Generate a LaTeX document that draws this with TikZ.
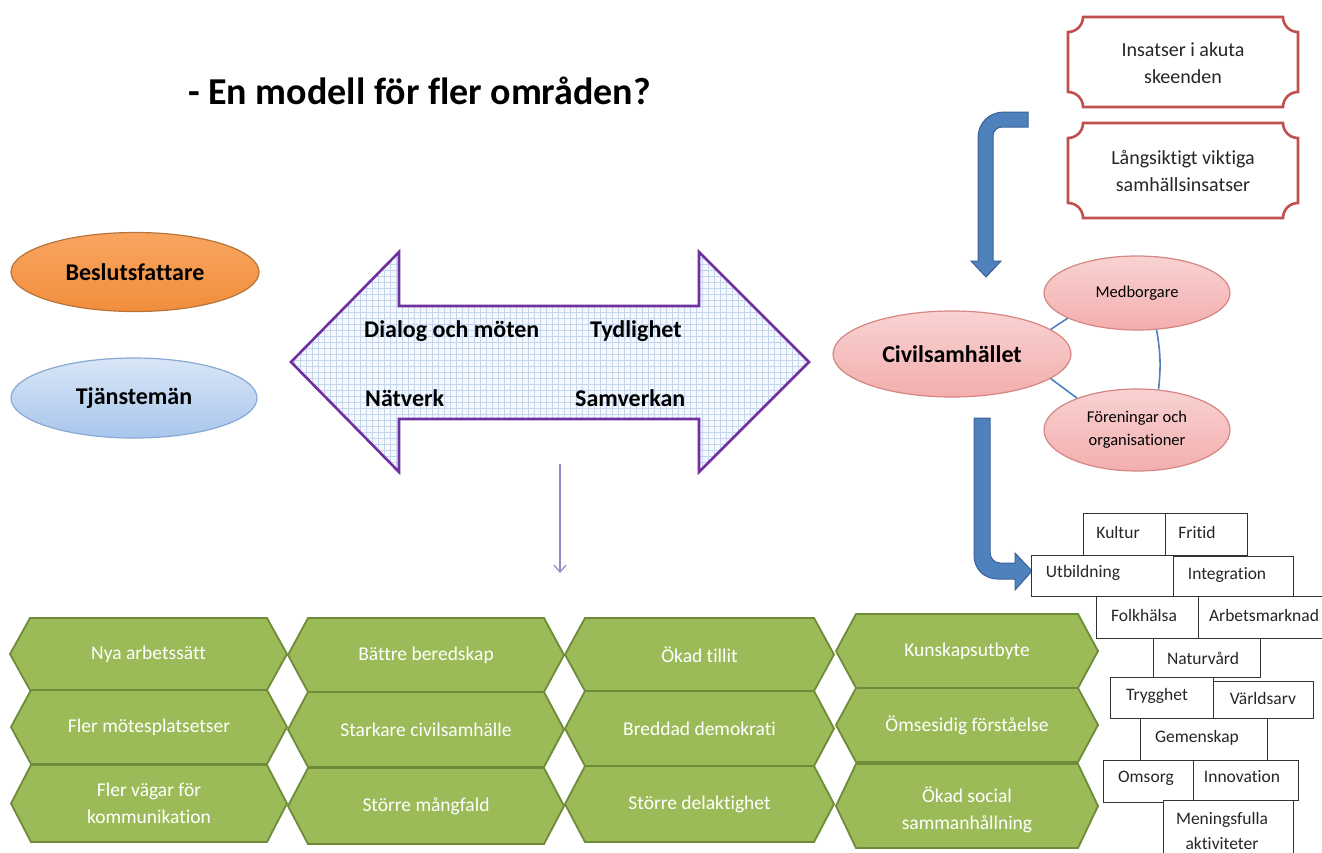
\documentclass[tikz,border=0pt]{standalone}
\usepackage{fontspec}
\setmainfont{Carlito}[Ligatures=NoCommon]
\usetikzlibrary{shapes.geometric,arrows.meta}
\definecolor{grn}{HTML}{9BBB59}
\definecolor{grnd}{HTML}{6F8B3A}
\definecolor{redb}{HTML}{C0504D}
\definecolor{blu}{HTML}{4F81BD}
\definecolor{blud}{HTML}{3A6298}
\definecolor{purp}{HTML}{7030A0}
\definecolor{lpurp}{HTML}{9A86C4}
\definecolor{gridbg}{HTML}{F5F8FD}
\definecolor{gridln}{HTML}{C3D6EE}
\definecolor{pinkt}{HTML}{F9D2D2}
\definecolor{pinkb}{HTML}{F3AEAE}
\definecolor{pinkd}{HTML}{D68583}
\definecolor{orat}{HTML}{F8A560}
\definecolor{orab}{HTML}{F28E3C}
\definecolor{orad}{HTML}{B8733A}
\definecolor{blt}{HTML}{D9E6F7}
\definecolor{blb}{HTML}{A8C6EC}
\definecolor{bld}{HTML}{88A9D4}
\newcommand\fsz[1]{\fontsize{#1}{#1}\selectfont}
\newcommand\plaquepath[4]{({#1+15},#2) -- ({#3-15},#2) .. controls ({#3-15},{#2+8.3}) and ({#3-8.3},{#2+15}) .. (#3,{#2+15})
 -- (#3,{#4-15}) .. controls ({#3-8.3},{#4-15}) and ({#3-15},{#4-8.3}) .. ({#3-15},#4)
 -- ({#1+15},#4) .. controls ({#1+15},{#4-8.3}) and ({#1+8.3},{#4-15}) .. (#1,{#4-15})
 -- (#1,{#2+15}) .. controls ({#1+8.3},{#2+15}) and ({#1+15},{#2+8.3}) .. ({#1+15},#2) -- cycle}
\newcommand\hexa[6]{%
  \draw[hexs] (#2,{(#3+#5)/2}) -- ({#2+20},#3) -- ({#4-20},#3) -- (#4,{(#3+#5)/2}) -- ({#4-20},#5) -- ({#2+20},#5) -- cycle;
  \node[hext] (#1) at ({(#2+#4)/2},{(#3+#5)/2}) {#6};}
\newcommand\cell[4]{\draw[cellbox] (#1,#2) rectangle (#3,#4);}
\begin{document}
\begin{tikzpicture}[x=1pt,y=-1pt,
  ell/.style={ellipse, inner sep=0pt, line width=1.2pt},
  plaque/.style={draw=redb, line width=2.6pt, fill=white},
  plaquetext/.style={align=center, font=\fontsize{20}{27}\selectfont, text=black!85},
  hexs/.style={fill=grn, draw=grnd, line width=1.8pt},
  hext/.style={align=center, text=white, font=\fontsize{19.5}{27}\selectfont},
  cellbox/.style={draw=black!80, line width=0.9pt, fill=white},
  celltext/.style={font=\fsz{17.5}, text=black!85, inner sep=0pt},
  blockarrow/.style={fill=blu, draw=blud, line width=1pt},
  arrtext/.style={font=\fsz{24}\bfseries, anchor=west, inner sep=0pt},
  linkline/.style={draw=blu, line width=1.6pt}
]
\useasboundingbox (0,0) rectangle (1322,852);
\fill[white] (0,0) rectangle (1322,852);

% title
\node[anchor=base west, inner sep=0pt, font=\fsz{38}\bfseries] (title) at (188,104) {- En modell för fler områden?};

% left ellipses
\node[ell, top color=orat, bottom color=orab, draw=orad, minimum width=248pt, minimum height=79pt] (bes) at (135,272) {\fsz{24}\bfseries Beslutsfattare};
\node[ell, top color=blt, bottom color=blb, draw=bld, minimum width=246pt, minimum height=80pt] (tja) at (134,398) {\fsz{24}\bfseries Tjänstemän};

% double arrow
\begin{scope}
  \clip (291,362) -- (399,252) -- (399,306) -- (699,306) -- (699,252) -- (809,362) -- (699,472) -- (699,419) -- (399,419) -- (399,472) -- cycle;
  \fill[gridbg] (280,240) rectangle (820,480);
  \draw[gridln, line width=0.5pt, step=6pt] (280,240) grid (820,480);
\end{scope}
\draw[purp, line width=2.6pt, line join=miter] (291,362) -- (399,252) -- (399,306) -- (699,306) -- (699,252) -- (809,362) -- (699,472) -- (699,419) -- (399,419) -- (399,472) -- cycle;
\node[arrtext] (dia) at (364,331) {Dialog och möten};
\node[arrtext] (tyd) at (590,331) {Tydlighet};
\node[arrtext] (nat) at (365,398) {Nätverk};
\node[arrtext] (sam) at (575,398) {Samverkan};
\coordinate (dblbot) at (560,464);
\coordinate (hextop) at (560,573);
\draw[lpurp, line width=1.2pt, -{Straight Barb[length=7pt,width=12pt,line width=1.2pt]}] (dblbot) -- (hextop);

% plaques
\draw[plaque] \plaquepath{1068}{17}{1298}{107};
\node[plaquetext] (akut) at (1183,63) {Insatser i akuta\\skeenden};
\draw[plaque] \plaquepath{1068}{123}{1298}{218};
\node[plaquetext] (lang) at (1183,171) {Långsiktigt viktiga\\samhällsinsatser};

% blue bent arrows
\draw[blockarrow] (1028,112) -- (1004,112) .. controls (989,112) and (978,123) .. (978,138) -- (978,261) -- (971,261) -- (986,277) -- (1001,261) -- (993,261) -- (993,136) .. controls (993,131) and (997,127) .. (1002,127) -- (1028,127) -- cycle;
\draw[blockarrow] (974,418) -- (990,418) -- (990,552) .. controls (990,558) and (994,563) .. (1000,563) -- (1015,563) -- (1015,553) -- (1032,571) -- (1015,590) -- (1015,579) -- (998,579) .. controls (984,579) and (974,569) .. (974,555) -- cycle;

% civil society ellipses
\node[ell, top color=pinkt, bottom color=pinkb, draw=pinkd, minimum width=238pt, minimum height=86pt] (civ) at (952,354) {\fsz{24}\bfseries Civilsamhället};
\node[ell, top color=pinkt, bottom color=pinkb, draw=pinkd, minimum width=186pt, minimum height=74pt] (med) at (1137,293) {\fsz{16.5}Medborgare};
\node[ell, top color=pinkt, bottom color=pinkb, draw=pinkd, minimum width=186pt, minimum height=82pt, align=center, font=\fontsize{16.5}{23}\selectfont] (for) at (1137,430) {Föreningar och\\organisationer};
\draw[linkline] (civ.14) -- (med.200);
\draw[linkline] (civ.-14) -- (for.152);
\draw[linkline] (med.-62) to[bend left=8] (for.62);

% green hexagons
\hexa{h11}{10}{618}{287}{690}{Nya arbetssätt}
\hexa{h12}{11}{690}{287}{764}{Fler mötesplatsetser}
\hexa{h13}{11}{765}{287}{842}{Fler vägar för\\kommunikation}
\hexa{h21}{288}{618}{564}{692}{Bättre beredskap}
\hexa{h22}{288}{692}{564}{767}{Starkare civilsamhälle}
\hexa{h23}{288}{768}{564}{844}{Större mångfald}
\hexa{h31}{565}{618}{834}{691}{Ökad tillit}
\hexa{h32}{565}{691}{834}{766}{Breddad demokrati}
\hexa{h33}{565}{766}{834}{842}{Större delaktighet}
\hexa{h41}{836}{614}{1098}{688}{Kunskapsutbyte}
\hexa{h42}{836}{688}{1098}{762}{Ömsesidig förståelse}
\draw[hexs] (836,806) -- (856,764) -- (1078,764) -- (1098,806) -- (1078,848) -- (856,848) -- cycle;
\begin{scope}
  \clip (836,764) rectangle (1100,833);
  \node[hext] (h43) at (967,810) {Ökad social\\sammanhållning};
\end{scope}

% bottom right area boxes
\cell{1083}{513}{1165}{555}
\cell{1165}{513}{1247}{555}
\cell{1031}{555}{1173}{596}
\cell{1173}{556}{1293}{596}
\cell{1096}{596}{1198}{638}
\cell{1198}{596}{1330}{638}
\cell{1153}{638}{1260}{677}
\cell{1110}{677}{1213}{718}
\cell{1213}{681}{1313}{718}
\cell{1140}{718}{1267}{760}
\cell{1103}{760}{1193}{802}
\cell{1193}{760}{1298}{800}
\cell{1163}{800}{1293}{870}
\node[celltext] (kul) at (1118,532) {Kultur};
\node[celltext] (fri) at (1197,532) {Fritid};
\node[celltext] (utb) at (1083,573) {Utbildning};
\node[celltext] (int) at (1227,575) {Integration};
\node[celltext] (fol) at (1144,615) {Folkhälsa};
\node[celltext] (arb) at (1264,615) {Arbetsmarknad};
\node[celltext] (nav) at (1203,658) {Naturvård};
\node[celltext] (try) at (1157,696) {Trygghet};
\node[celltext] (var) at (1263,698) {Världsarv};
\node[celltext] (gem) at (1197,738) {Gemenskap};
\node[celltext] (oms) at (1146,778) {Omsorg};
\node[celltext] (inn) at (1242,777) {Innovation};
\node[celltext, align=center, font=\fontsize{17.5}{25}\selectfont] (men) at (1222,831) {Meningsfulla\\aktiviteter};
\end{tikzpicture}
\end{document}
